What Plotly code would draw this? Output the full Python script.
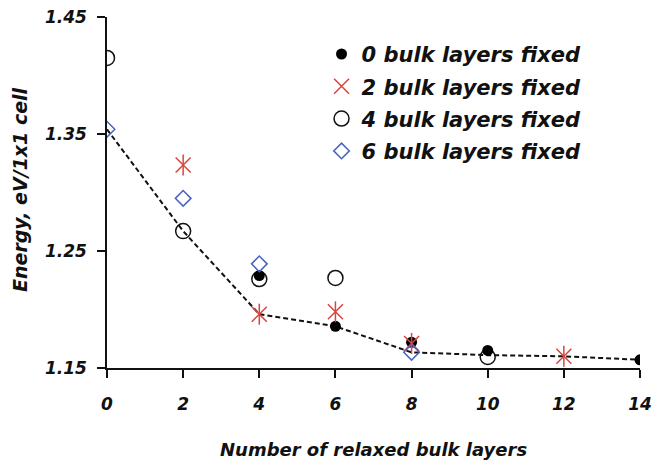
import plotly.graph_objects as go

# Data
x0 = [4, 6, 8, 10, 14]
y0 = [1.229, 1.1856, 1.172, 1.165, 1.157]
x2 = [2, 4, 6, 8, 12]
y2 = [1.3235, 1.196, 1.198, 1.171, 1.160]
x4 = [0, 2, 4, 6, 10]
y4 = [1.415, 1.267, 1.226, 1.227, 1.1594]
x6 = [0, 2, 4, 8]
y6 = [1.354, 1.295, 1.239, 1.1634]
xmin = [0, 2, 4, 6, 8, 10, 12, 14]
ymin = [1.354, 1.267, 1.196, 1.1856, 1.1634, 1.161, 1.160, 1.157]
xticks = [0, 2, 4, 6, 8, 10, 12, 14]
yticks = [1.15, 1.25, 1.35, 1.45]
xtitle = "Number of relaxed bulk layers"
ytitle = "Energy, eV/1x1 cell"

RED = "#d8453e"
BLUE = "#4a62c4"
FONT = "DejaVu Sans"


def bi(s):
    return "<b><i>" + s + "</i></b>"


fig = go.Figure()
fig.add_trace(go.Scatter(x=xmin, y=ymin, mode="lines", showlegend=False,
                         line=dict(color="#111", width=2, dash="5px,3px")))
fig.add_trace(go.Scatter(x=x4, y=y4, mode="markers", name=bi("4 bulk layers fixed"),
                         legendgroup="c", legendrank=3,
                         marker=dict(symbol="circle-open", size=15, color="#111",
                                     line=dict(width=1.5, color="#111"))))
fig.add_trace(go.Scatter(x=x0, y=y0, mode="markers", name=bi("0 bulk layers fixed"),
                         legendgroup="a", legendrank=1,
                         marker=dict(symbol="circle", size=11, color="#000")))
fig.add_trace(go.Scatter(x=x2, y=y2, mode="markers", name=bi("2 bulk layers fixed"),
                         legendgroup="b", legendrank=2,
                         marker=dict(symbol="x-thin-open", size=15, color=RED,
                                     line=dict(width=1.5, color=RED))))
fig.add_trace(go.Scatter(x=x2, y=y2, mode="markers", showlegend=False,
                         legendgroup="b",
                         marker=dict(symbol="line-ns-open", size=15, color=RED,
                                     line=dict(width=1.5, color=RED))))
fig.add_trace(go.Scatter(x=x6, y=y6, mode="markers", name=bi("6 bulk layers fixed"),
                         legendgroup="d", legendrank=4,
                         marker=dict(symbol="diamond-open", size=12, color=BLUE,
                                     line=dict(width=1.5, color=BLUE))))

axfont = dict(family=FONT, size=17, color="#111", weight="bold", style="italic")
W, H = 652, 460
pl, pr, pt, pb = 107, 12, 17, 92
pw, ph = W - pl - pr, H - pt - pb

fig.update_layout(
    width=W, height=H,
    margin=dict(l=pl, r=pr, t=pt, b=pb),
    paper_bgcolor="white", plot_bgcolor="white",
    font=dict(family=FONT, color="#111"),
    legend=dict(x=0.4025, y=0.952, xanchor="left", yanchor="top",
                traceorder="grouped", tracegroupgap=2,
                font=dict(family=FONT, size=21, color="#111"),
                bgcolor="rgba(0,0,0,0)", itemsizing="trace"),
    xaxis=dict(range=[0, 14], tickvals=xticks, ticktext=[bi(str(v)) for v in xticks],
               showgrid=False, zeroline=False, automargin=False,
               showline=True, linecolor="#111", linewidth=1.5,
               ticks="outside", ticklen=8, tickwidth=1.5, tickcolor="#111",
               tickfont=axfont, ticklabelstandoff=12),
    yaxis=dict(range=[1.15, 1.45], tickvals=yticks,
               ticktext=[bi("%.2f" % v) for v in yticks],
               showgrid=False, zeroline=False, automargin=False,
               showline=True, linecolor="#111", linewidth=1.5,
               ticks="outside", ticklen=8, tickwidth=1.5, tickcolor="#111",
               tickfont=axfont, ticklabelstandoff=7),
    annotations=[
        dict(text=bi(xtitle), xref="paper", yref="paper",
             x=(373 - pl) / pw, y=(H - pb - 449) / ph,
             xanchor="center", yanchor="middle", showarrow=False,
             font=dict(family=FONT, size=18, color="#111")),
        dict(text=bi(ytitle), xref="paper", yref="paper",
             x=(20 - pl) / pw, y=(H - pb - 190) / ph,
             xanchor="center", yanchor="middle", showarrow=False, textangle=-90,
             font=dict(family=FONT, size=19, color="#111")),
    ],
)

fig.write_html("out.html")
